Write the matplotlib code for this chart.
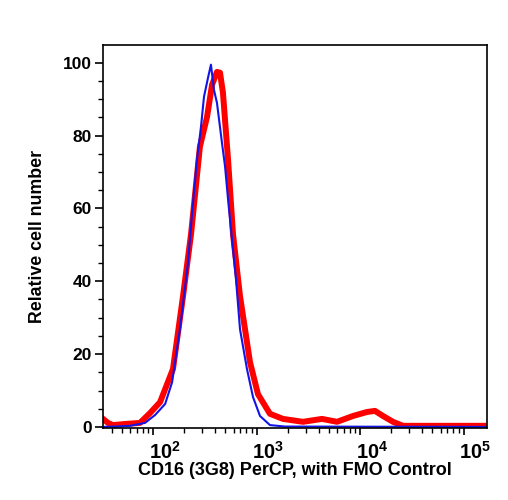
"""
CD16 (3G8) PerCP histogram overlay with FMO control
"""
import matplotlib
matplotlib.use("Agg")
import matplotlib.pyplot as plt
from matplotlib.ticker import LogLocator, FixedLocator, NullFormatter
from matplotlib.transforms import ScaledTranslation

plt.rcParams['font.family'] = ['Liberation Sans', 'DejaVu Sans']
plt.rcParams['font.weight'] = 'bold'
plt.rcParams['mathtext.fontset'] = 'custom'
plt.rcParams['mathtext.rm'] = 'Liberation Sans:bold'
plt.rcParams['mathtext.bf'] = 'Liberation Sans:bold'

# stained sample (red)
stain_x = [32.9, 36.7, 41.1, 53.6, 74.8, 93.6, 117, 156, 195, 233, 284, 333,
           372, 415, 444, 474, 531, 593, 693, 865, 1033, 1349, 1803, 2812,
           4295, 5998, 8551, 11690, 13960, 16680, 20840, 26020, 173800]
stain_y = [2.2, 1.1, 0.5, 0.8, 1.1, 3.8, 6.8, 15.9, 35.9, 52.9, 77.0, 85.2,
           94.0, 97.5, 97.3, 91.8, 73.4, 52.9, 35.9, 17.8, 9.0, 3.6, 2.2, 1.4,
           2.2, 1.4, 3.0, 4.1, 4.4, 3.0, 1.4, 0.3, 0.3]

# FMO control (blue)
fmo_x = [32.9, 43, 60, 83.7, 105, 131, 153, 182, 218, 238, 266, 291, 311,
         340, 363, 388, 415, 464, 497, 531, 580, 634, 693, 809, 925, 1081,
         1349, 1884, 173800]
fmo_y = [0.0, 0.1, 0.3, 1.1, 3.3, 6.3, 12.3, 26.8, 45.2, 58.4, 73.4, 82.5,
         90.7, 95.9, 99.5, 92.6, 89.0, 78.0, 71.5, 62.5, 51.5, 40.5, 26.8,
         15.9, 8.2, 3.0, 0.5, 0.1, 0.0]

x_ticks = [1e2, 1e3, 1e4, 1e5]
x_tick_labels = [r'$10^{2}$', r'$10^{3}$', r'$10^{4}$', r'$10^{5}$']
y_ticks = [0, 20, 40, 60, 80, 100]

fig = plt.figure(figsize=(5.08, 5.0), dpi=100)
ax = fig.add_axes([0.2028, 0.144, 0.7559, 0.766])

ax.plot(stain_x, stain_y, color='#ff0000', lw=4.3, solid_joinstyle='round')
ax.plot(fmo_x, fmo_y, color='#1414e6', lw=1.5)

ax.set_xscale('log')
ax.set_xlim(32.9, 168700)
ax.set_ylim(-0.3, 104.9)

ax.set_xticks(x_ticks)
ax.set_xticklabels(x_tick_labels, fontsize=14.5)
ax.xaxis.set_minor_locator(LogLocator(base=10, subs=range(2, 10)))
ax.xaxis.set_minor_formatter(NullFormatter())

ax.set_yticks(y_ticks)
ax.set_yticklabels([str(v) for v in y_ticks], fontsize=12.5, fontweight='bold')
ax.yaxis.set_minor_locator(FixedLocator(range(0, 105, 5)))

ax.tick_params(which='major', direction='out', length=6, width=1.2, pad=2)
ax.tick_params(which='minor', direction='out', length=3.5, width=1.0)
ax.tick_params(axis='x', which='major', length=5, pad=4)
ax.tick_params(top=False, right=False, which='both')
for s in ax.spines.values():
    s.set_linewidth(1.2)

# labels in the reference start just left of the tick
# (done after tick_params, which resets the label transforms)
shift = ScaledTranslation(-3 / 72, 0, fig.dpi_scale_trans)
for lab in ax.get_xticklabels():
    lab.set_ha('left')
    lab.set_transform(lab.get_transform() + shift)

ax.set_xlabel('CD16 (3G8) PerCP, with FMO Control', fontsize=13,
              fontweight='bold', labelpad=0)
ax.set_ylabel('Relative cell number', fontsize=12.8, fontweight='bold',
              labelpad=12)

fig.savefig('out.png', dpi=100)
